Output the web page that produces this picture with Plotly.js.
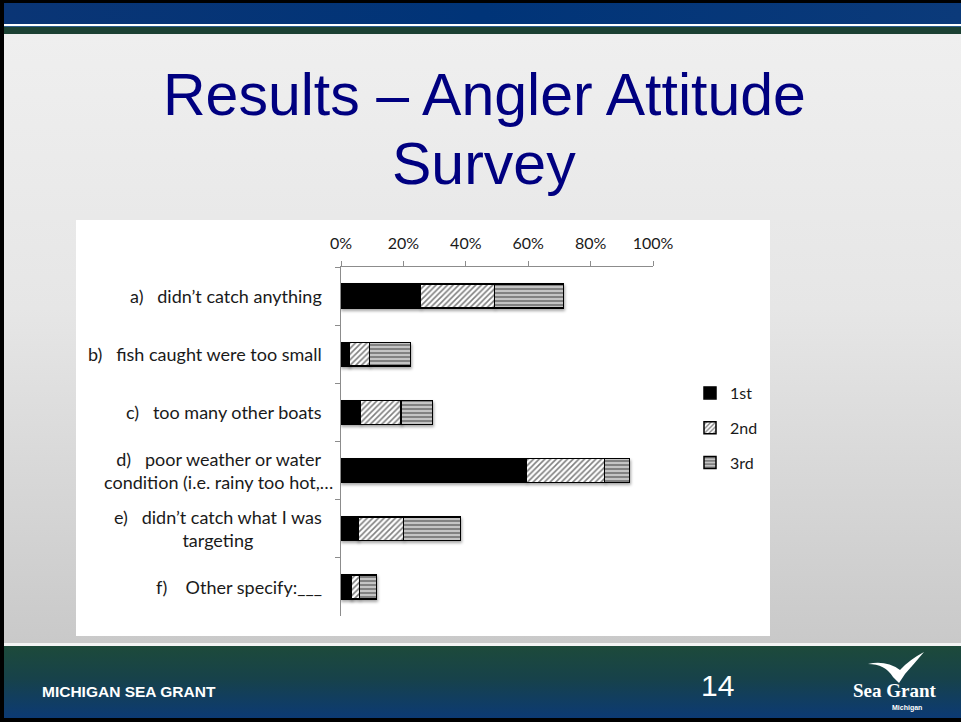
<!DOCTYPE html>
<html>
<head>
<meta charset="utf-8">
<script src="https://cdn.plot.ly/plotly-3.0.1.min.js"></script>
<style>
  html, body { margin: 0; padding: 0; width: 961px; height: 722px; overflow: hidden; background: #000; }
  #slide { position: absolute; left: 0; top: 0; width: 961px; height: 722px; }
  .bg { position: absolute; }
  #chart { position: absolute; left: 0; top: 0; width: 961px; height: 722px; }
  #chart .trace.bars { filter: drop-shadow(1px 2px 1.5px rgba(0,0,0,0.35)); }
</style>
</head>
<body>
<div id="slide">
  <div class="bg" style="left:0;top:0;width:961px;height:722px;background:#000;"></div>
  <div class="bg" style="left:4px;top:3px;width:957px;height:21px;background:linear-gradient(90deg,#0a3575,#003478 50%,#0b3a7a);"></div>
  <div class="bg" style="left:4px;top:24px;width:957px;height:2px;background:#ffffff;"></div>
  <div class="bg" style="left:4px;top:26px;width:957px;height:1px;background:#2a5d8a;"></div>
  <div class="bg" style="left:4px;top:27px;width:957px;height:7px;background:#1b4133;"></div>
  <div class="bg" style="left:4px;top:34px;width:957px;height:609px;background:linear-gradient(180deg,#efefef 0%,#e6e6e6 45%,#c9c9c9 100%);"></div>
  <div class="bg" style="left:4px;top:643px;width:957px;height:3px;background:#f4f4f4;"></div>
  <div class="bg" style="left:4px;top:646px;width:957px;height:72px;background:linear-gradient(180deg,#1d4a3a 0%,#17424a 45%,#0c3a74 100%);"></div>
  <div class="bg" style="left:76px;top:220px;width:694px;height:416px;background:#ffffff;"></div>
</div>
<div id="chart"></div>
<script>
// ---- data ----
var categories = [
  "a)   didn’t catch anything",
  "b)   fish caught were too small",
  "c)   too many other boats",
  "d)   poor weather or water<br>condition (i.e. rainy too hot,…",
  "e)   didn’t catch what I was<br>targeting",
  "f)    Other specify:___"
];
var seriesNames = ["1st", "2nd", "3rd"];
var first  = [25.4, 2.5, 6.3, 59.5, 5.4, 3.2];
var second = [23.8, 6.6, 12.9, 24.9, 14.6, 2.7];
var third  = [22.1, 13.1, 10.1, 8.0, 18.3, 5.4];
var tickValues = [0, 20, 40, 60, 80, 100];
var tickLabels = ["0%", "20%", "40%", "60%", "80%", "100%"];

// ---- geometry helpers (plot area in px) ----
var W = 961, H = 722;
var PL = 341, PR = 653, PT = 267, PB = 616;
function px(x) { return (x - PL) / (PR - PL); }
function py(y) { return (PB - y) / (PB - PT); }

var lineStyle = { color: "#000000", width: 1.5 };
var traces = [
  {
    type: "bar", orientation: "h", name: seriesNames[0], legendgroup: "g1",
    x: first, y: categories, width: 0.41,
    marker: { color: "#000000", line: lineStyle }
  },
  {
    type: "bar", orientation: "h", name: seriesNames[1], legendgroup: "g2",
    x: second, y: categories, width: 0.41,
    marker: { color: "#ffffff", line: lineStyle,
      pattern: { shape: "/", fillmode: "overlay", fgcolor: "#000000", size: 4, solidity: 0.4 } }
  },
  {
    type: "bar", orientation: "h", name: seriesNames[2], legendgroup: "g3",
    x: third, y: categories, width: 0.41,
    marker: { color: "#c4c4c4", line: lineStyle,
      pattern: { shape: "-", fillmode: "overlay", fgcolor: "#1a1a1a", size: 4, solidity: 0.4 } }
  }
];

var labelFont = { family: "Lato, 'Open Sans', sans-serif", size: 18, color: "#1a1a1a" };
var annotations = categories.map(function (c) {
  var multi = c.indexOf("<br>") >= 0;
  return {
    text: c, xref: "paper", yref: "y", y: c,
    x: multi ? px(218) : px(324),
    xanchor: multi ? "center" : "right", yanchor: "middle",
    align: "center", showarrow: false, font: labelFont
  };
});

annotations.push(
  { text: "Results – Angler Attitude", xref: "paper", yref: "paper", x: px(484), y: py(95),
    xanchor: "center", yanchor: "middle", showarrow: false,
    font: { family: "'Liberation Sans', Arial, sans-serif", size: 59, color: "#000080" } },
  { text: "Survey", xref: "paper", yref: "paper", x: px(484), y: py(164),
    xanchor: "center", yanchor: "middle", showarrow: false,
    font: { family: "'Liberation Sans', Arial, sans-serif", size: 59, color: "#000080" } },
  { text: "<b>MICHIGAN SEA GRANT</b>", xref: "paper", yref: "paper", x: px(40), y: py(691),
    xanchor: "left", yanchor: "middle", showarrow: false,
    font: { family: "'Liberation Sans', sans-serif", size: 15.5, color: "#ffffff" } },
  { text: "14", xref: "paper", yref: "paper", x: px(717), y: py(685),
    xanchor: "center", yanchor: "middle", showarrow: false,
    font: { family: "'Liberation Sans', sans-serif", size: 30, color: "#ffffff" } },
  { text: "<b>Sea Grant</b>", xref: "paper", yref: "paper", x: px(895), y: py(690),
    xanchor: "center", yanchor: "middle", showarrow: false,
    font: { family: "'Liberation Serif', serif", size: 19, color: "#ffffff" } },
  { text: "<b>Michigan</b>", xref: "paper", yref: "paper", x: px(907), y: py(708),
    xanchor: "center", yanchor: "middle", showarrow: false,
    font: { family: "'Liberation Sans', sans-serif", size: 7, color: "#ffffff" } }
);

function P(x, y) { return px(x).toFixed(4) + "," + py(y).toFixed(4); }
var birdPath = "M " + P(868, 664) + " Q " + P(885, 664) + " " + P(893, 677) +
  " L " + P(899, 683) + " L " + P(905, 674) + " Q " + P(914, 664) + " " + P(924, 652) +
  " Q " + P(909, 660) + " " + P(900, 670) + " Q " + P(886, 660) + " " + P(868, 664) + " Z";

var layout = {
  width: W, height: H,
  margin: { l: PL, r: W - PR, t: PT, b: H - PB, pad: 0 },
  paper_bgcolor: "rgba(0,0,0,0)",
  plot_bgcolor: "rgba(0,0,0,0)",
  barmode: "stack",
  bargap: 0.59,
  showlegend: true,
  legend: {
    x: px(690), y: py(376), xanchor: "left", yanchor: "top",
    traceorder: "grouped", tracegroupgap: 11, itemwidth: 30,
    font: { family: "Lato, 'Open Sans', sans-serif", size: 16, color: "#1a1a1a" },
    bgcolor: "rgba(0,0,0,0)"
  },
  xaxis: {
    side: "top", range: [0, 100], tickvals: tickValues, ticktext: tickLabels,
    showgrid: false, zeroline: false, showline: true, linecolor: "#8c8c8c", linewidth: 1,
    ticks: "outside", ticklen: 5, tickcolor: "#8c8c8c", ticklabelstandoff: 6,
    tickfont: { family: "Lato, 'Open Sans', sans-serif", size: 16, color: "#1a1a1a" },
    fixedrange: true
  },
  yaxis: {
    type: "category", categoryorder: "array", categoryarray: categories,
    autorange: "reversed", showticklabels: false,
    tickson: "boundaries", ticks: "outside", ticklen: 5, tickcolor: "#8c8c8c",
    showgrid: false, zeroline: false, showline: true, linecolor: "#8c8c8c", linewidth: 1,
    fixedrange: true
  },
  annotations: annotations,
  shapes: [
    { type: "path", xref: "paper", yref: "paper", path: birdPath,
      fillcolor: "#ffffff", line: { width: 0 } }
  ]
};

Plotly.newPlot("chart", traces, layout, { staticPlot: true, displayModeBar: false });
</script>
</body>
</html>
